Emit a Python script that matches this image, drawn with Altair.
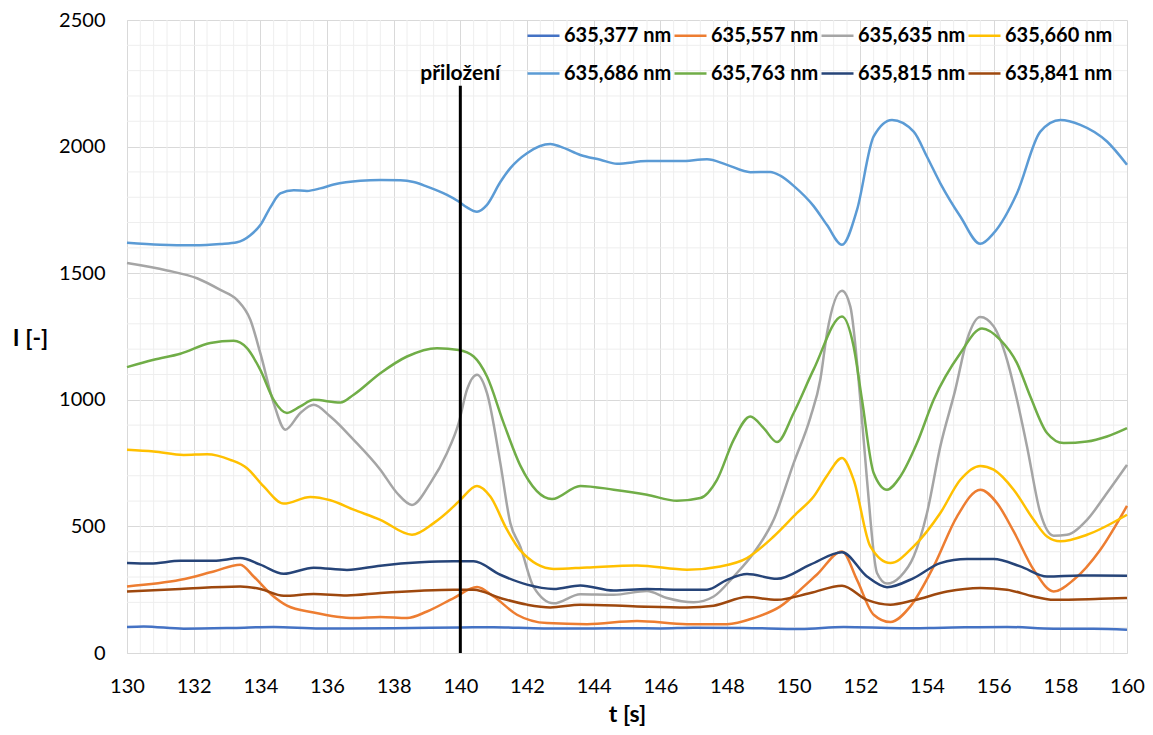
import altair as alt
import pandas as pd
import numpy as np

FONT = "Lato"

names = ["635,377 nm", "635,557 nm", "635,635 nm", "635,660 nm",
         "635,686 nm", "635,763 nm", "635,815 nm", "635,841 nm"]
colors = ["#4472C4", "#ED7D31", "#A5A5A5", "#FFC000",
          "#5B9BD5", "#70AD47", "#264478", "#9E480E"]

t_377 = [130, 130.5, 131.7, 133.2, 134.4, 135.8, 138, 140, 141, 142.5, 144, 145, 146, 147,
         148.5, 150.2, 151.5, 153.2, 154.5, 156.4, 157.8, 159, 160]
v_377 = [103, 105, 96, 99, 103, 97, 98, 101, 102, 97, 97, 98, 97, 100,
         99, 95, 103, 98, 100, 103, 96, 96, 92]

t_557 = [130, 131.6, 132.6, 133.4, 133.8, 134.4, 134.8, 135.6, 136.8, 137.6, 138.4, 139.0,
         139.8, 140.5, 141.0, 141.7, 142.6, 143.8, 145.3, 146.8, 148.0, 148.8, 149.6, 150.2,
         150.7, 151.45, 151.9, 152.4, 152.9, 153.5, 154.2, 154.9, 155.6, 156.1, 156.6, 157.2,
         157.8, 158.4, 159.2, 160]
v_557 = [263, 289, 322, 349, 302, 223, 187, 160, 138, 142, 138, 164,
         217, 261, 223, 151, 118, 114, 126, 114, 114, 138, 184, 250,
         310, 401, 289, 151, 122, 184, 342, 539, 645, 592, 480, 329,
         243, 289, 408, 581]

t_635 = [130, 131.2, 132.1, 132.8, 133.3, 133.7, 134.0, 134.4, 134.75, 135.2, 135.6, 136.1,
         136.8, 137.6, 138.1, 138.55, 139.1, 139.6, 139.95, 140.2, 140.5, 140.8, 141.2, 141.5,
         141.8, 142.2, 142.8, 143.6, 144.6, 145.6, 146.2, 147.0, 147.6, 148.2, 148.8, 149.4,
         150.0, 150.5, 150.8, 151.0, 151.45, 151.7, 152.0, 152.2, 152.5, 152.8, 153.2, 153.6,
         154.0, 154.4, 154.85, 155.2, 155.6, 156.0, 156.4, 156.7, 157.0, 157.4, 157.8, 158.2,
         158.8, 159.4, 160]
v_635 = [1540, 1511, 1480, 1434, 1395, 1316, 1184, 987, 882, 948, 980, 934,
         842, 724, 632, 585, 671, 790, 908, 1040, 1099, 1026, 750, 513,
         420, 260, 196, 232, 230, 245, 217, 200, 223, 302, 395, 526,
         750, 930, 1080, 1263, 1431, 1368, 1000, 684, 316, 274, 302, 381,
         553, 816, 1040, 1237, 1327, 1290, 1158, 1000, 816, 553, 463, 467,
         526, 632, 743]

t_660 = [130, 130.8, 131.7, 132.4, 133.1, 133.6, 134.1, 134.7, 135.5, 136.1, 136.8, 137.6,
         138.55, 139.2, 139.8, 140.0, 140.5, 140.9, 141.4, 141.8, 142.8, 143.8, 145.3, 146.8,
         147.8, 148.6, 149.4, 150.1, 150.6, 151.0, 151.45, 151.8, 152.3, 152.9, 153.6, 154.4,
         155.0, 155.6, 156.0, 156.6, 157.2, 157.6, 158.0, 158.8, 160]
v_660 = [803, 796, 782, 785, 763, 730, 658, 590, 616, 603, 566, 526,
         467, 513, 579, 605, 660, 618, 487, 405, 332, 338, 346, 329,
         342, 375, 460, 553, 618, 700, 770, 684, 421, 355, 421, 553,
         684, 739, 724, 645, 526, 460, 441, 467, 546]

t_686 = [130, 131, 132, 132.8, 133.3, 133.7, 134.0, 134.3, 134.6, 135.0, 135.4, 135.8,
         136.2, 137.0, 137.6, 138.2, 138.6, 139.0, 139.6, 139.95, 140.2, 140.5, 140.8, 141.2,
         141.5, 142.0, 142.7, 143.0, 143.6, 144.2, 144.7, 145.6, 146.6, 147.4, 148.0, 148.7,
         149.3, 149.6, 150.0, 150.6, 151.0, 151.45, 151.9, 152.4, 152.95, 153.6, 154.0, 154.4,
         155.0, 155.6, 156.0, 156.7, 157.4, 158.0, 158.6, 159.4, 160]
v_686 = [1620, 1612, 1610, 1615, 1622, 1650, 1690, 1760, 1815, 1828, 1825, 1835,
         1850, 1865, 1868, 1867, 1860, 1842, 1809, 1783, 1760, 1743, 1770, 1860,
         1915, 1974, 2010, 2000, 1967, 1948, 1932, 1943, 1943, 1950, 1928, 1899,
         1900, 1885, 1845, 1765, 1690, 1612, 1750, 2040, 2105, 2059, 1960, 1855,
         1724, 1616, 1658, 1816, 2059, 2105, 2086, 2020, 1928]

t_763 = [130, 130.8, 131.6, 132.5, 133.2, 133.6, 134.0, 134.4, 134.8, 135.2, 135.6, 136.4,
         136.8, 137.6, 138.4, 139.3, 139.95, 140.4, 140.8, 141.3, 141.8, 142.75, 143.6, 144.6,
         145.6, 146.5, 147.2, 147.7, 148.2, 148.7, 149.1, 149.5, 150.0, 150.6, 151.45,
         151.8, 152.05, 152.4, 152.8, 153.2, 153.7, 154.2, 155.0, 155.65, 156.2, 156.7, 157.1,
         157.6, 158.1, 158.8, 159.4, 160]
v_763 = [1129, 1158, 1182, 1224, 1233, 1204, 1118, 1000, 948, 974, 1000, 989,
         1020, 1105, 1171, 1204, 1197, 1171, 1092, 908, 740, 608, 660, 645,
         625, 601, 612, 684, 842, 934, 888, 833, 948, 1120, 1329,
         1210, 1000, 711, 645, 697, 829, 1000, 1184, 1282, 1237, 1145, 1013,
         869, 829, 835, 855, 888]

t_815 = [130, 130.7, 131.6, 132.6, 133.4, 134.0, 134.7, 135.6, 136.6, 137.6, 138.8, 139.8,
         140.4, 141.2, 142.0, 142.8, 143.6, 144.6, 145.6, 146.4, 147.4, 148.0, 148.6, 149.5,
         150.5, 151.45, 152.2, 152.8, 153.6, 154.4, 155.2, 156.0, 156.8, 157.6, 158.6, 160]
v_815 = [355, 353, 364, 364, 375, 349, 313, 337, 328, 345, 358, 362,
         362, 309, 270, 253, 267, 247, 253, 250, 250, 289, 312, 293,
         349, 398, 302, 260, 296, 355, 371, 371, 342, 302, 306, 305]

t_841 = [130, 131.6, 133.4, 134.0, 134.7, 135.6, 136.6, 137.6, 138.8, 139.8, 140.4, 141.2,
         142.0, 142.7, 143.6, 145.3, 146.8, 147.6, 148.6, 149.5, 150.5, 151.45, 152.2, 152.9,
         153.6, 154.6, 155.6, 156.4, 157.2, 157.8, 159.2, 160]
v_841 = [243, 253, 263, 253, 226, 233, 227, 237, 246, 250, 250, 217,
         191, 180, 191, 184, 180, 187, 221, 210, 237, 266, 210, 191,
         208, 243, 257, 250, 223, 210, 214, 217]

x_ticks = list(range(130, 161, 2))
y_ticks = [0, 500, 1000, 1500, 2000, 2500]
marker_t = 140
marker_label = "přiložení"

series = [(t_377, v_377), (t_557, v_557), (t_635, v_635), (t_660, v_660),
          (t_686, v_686), (t_763, v_763), (t_815, v_815), (t_841, v_841)]

rows = []
for name, (ts, vs) in zip(names, series):
    for t, v in zip(ts, vs):
        rows.append({"t": t, "I": v, "s": name})
df = pd.DataFrame(rows)

# minor gridlines (Excel style): every 0.4 s and every 100
minor_x = [round(130 + 0.4 * k, 2) for k in range(76) if k % 5 != 0]
minor_y = [100 * k for k in range(26) if k % 5 != 0]

xscale = alt.Scale(domain=[130, 160], nice=False, zero=False)
yscale = alt.Scale(domain=[0, 2500], nice=False)

grid_x = alt.Chart(pd.DataFrame({"t": minor_x})).mark_rule(
    color="#eeeeee", strokeWidth=1).encode(x=alt.X("t:Q", scale=xscale))
grid_y = alt.Chart(pd.DataFrame({"I": minor_y})).mark_rule(
    color="#eeeeee", strokeWidth=1).encode(y=alt.Y("I:Q", scale=yscale))

lines = alt.Chart(df).mark_line(interpolate="monotone", strokeWidth=2.5).encode(
    x=alt.X("t:Q", scale=xscale,
            axis=alt.Axis(values=x_ticks, title="t [s]", grid=True, gridColor="#d9d9d9",
                          ticks=False, tickSize=0, labelPadding=23, titlePadding=7,
                          domainColor="#d9d9d9", labelFlush=False, format="d")),
    y=alt.Y("I:Q", scale=yscale,
            axis=alt.Axis(values=y_ticks, title="I [-]", grid=True, gridColor="#d9d9d9",
                          ticks=False, tickSize=0, labelPadding=22, format="d",
                          domainColor="#d9d9d9", titleAngle=0, titleAlign="center",
                          titleBaseline="middle", titleX=-97, titleY=318)),
    color=alt.Color("s:N", scale=alt.Scale(domain=names, range=colors), sort=names,
                    legend=alt.Legend(title=None, orient="none", legendX=399, legendY=-2,
                                      columns=4, direction="horizontal",
                                      symbolType="stroke", symbolSize=1024,
                                      symbolStrokeWidth=2.5, labelFont=FONT,
                                      labelFontSize=20, labelFontWeight="bold",
                                      labelColor="#000000", labelOffset=3,
                                      columnPadding=-3, rowPadding=10)),
    detail="s:N",
    order=alt.Order("t:Q"),
)

mark_df = pd.DataFrame({"t": [marker_t], "I": [0], "I2": [2240], "yl": [2288],
                        "lab": [marker_label]})
vrule = alt.Chart(mark_df).mark_rule(color="black", strokeWidth=3).encode(
    x=alt.X("t:Q", scale=xscale), y=alt.Y("I:Q", scale=yscale), y2="I2:Q")
vtext = alt.Chart(mark_df).mark_text(font=FONT, fontSize=21, fontWeight="bold",
                                     color="black", align="center", baseline="middle").encode(
    x=alt.X("t:Q", scale=xscale), y=alt.Y("yl:Q", scale=yscale), text="lab:N")

chart = alt.layer(grid_x, grid_y, lines, vrule, vtext).properties(
    width=1000, height=633,
    autosize=alt.AutoSizeParams(type="none"),
    padding={"left": 119, "top": 12, "right": 18, "bottom": 80},
    background="white",
).configure_axis(
    labelFont=FONT, labelFontSize=20, labelColor="#000000",
    titleFont=FONT, titleFontSize=23, titleFontWeight="bold", titleColor="#000000",
).configure_view(stroke=None)

chart.save("out.html", embed_options={"renderer": "svg", "actions": False})
